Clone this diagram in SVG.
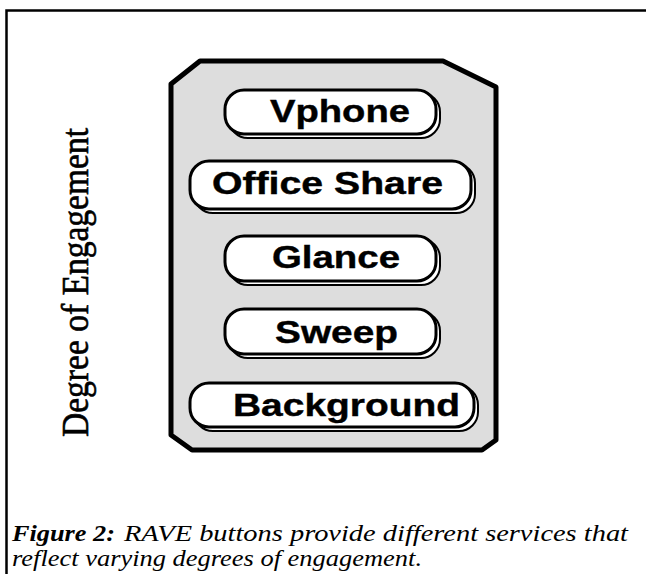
<svg xmlns="http://www.w3.org/2000/svg" width="646" height="574" viewBox="0 0 646 574">
<style>
.btn{fill:#fff;stroke:#000;stroke-width:3}
.shd{fill:#fff;stroke:#000;stroke-width:2}
.bt{font-family:"Liberation Sans",Arial,sans-serif;font-weight:bold;font-size:31px;fill:#000;stroke:#000;stroke-width:0.4}
.cap{font-family:"Liberation Serif","Times New Roman",serif;font-style:italic;font-size:24px;fill:#000}
</style>
<rect width="646" height="574" fill="#fff"/>
<g id="frame">
<path d="M6.5,574 V10.5 H646" fill="none" stroke="#000" stroke-width="2.5"/>
</g>
<g id="panel">
<polygon points="171,84 200,61 443,61 496,87 496,440 482,450 192,450 171,435" fill="#dddddd" stroke="#000" stroke-width="5" stroke-linejoin="round"/>
</g>
<g id="vphone">
<rect class="shd" x="229" y="93" width="211" height="45" rx="19" ry="19"/>
<rect class="btn" x="225" y="90" width="211" height="44" rx="19" ry="19"/>
<text class="bt" x="270" y="122" textLength="140" lengthAdjust="spacingAndGlyphs">Vphone</text>
</g>
<g id="office-share">
<rect class="shd" x="194" y="164" width="281" height="49" rx="19" ry="19"/>
<rect class="btn" x="190" y="161" width="281" height="48" rx="19" ry="19"/>
<text class="bt" x="212" y="194" textLength="231" lengthAdjust="spacingAndGlyphs">Office Share</text>
</g>
<g id="glance">
<rect class="shd" x="229" y="239" width="211" height="46" rx="19" ry="19"/>
<rect class="btn" x="225" y="236" width="211" height="45" rx="19" ry="19"/>
<text class="bt" x="272" y="268" textLength="128" lengthAdjust="spacingAndGlyphs">Glance</text>
</g>
<g id="sweep">
<rect class="shd" x="229" y="312" width="211" height="46" rx="19" ry="19"/>
<rect class="btn" x="225" y="309" width="211" height="45" rx="19" ry="19"/>
<text class="bt" x="275" y="343" textLength="123" lengthAdjust="spacingAndGlyphs">Sweep</text>
</g>
<g id="background">
<rect class="shd" x="194" y="386" width="284" height="45" rx="19" ry="19"/>
<rect class="btn" x="190" y="383" width="284" height="44" rx="19" ry="19"/>
<text class="bt" x="233" y="416" textLength="227" lengthAdjust="spacingAndGlyphs">Background</text>
</g>
<g id="connectors"></g>
<g id="axis-label">
<text x="88" y="437" transform="rotate(-90 88 437)" font-family="'Liberation Serif','Times New Roman',serif" font-size="37" stroke="#000" stroke-width="0.6" textLength="309" lengthAdjust="spacingAndGlyphs">Degree of Engagement</text>
</g>
<g id="caption">
<text class="cap" x="12" y="541" font-weight="bold" textLength="103" lengthAdjust="spacingAndGlyphs">Figure 2:</text>
<text class="cap" x="124" y="541" textLength="504" lengthAdjust="spacingAndGlyphs">RAVE buttons provide different services that</text>
<text class="cap" x="12" y="566" textLength="410" lengthAdjust="spacingAndGlyphs">reflect varying degrees of engagement.</text>
</g>
</svg>
